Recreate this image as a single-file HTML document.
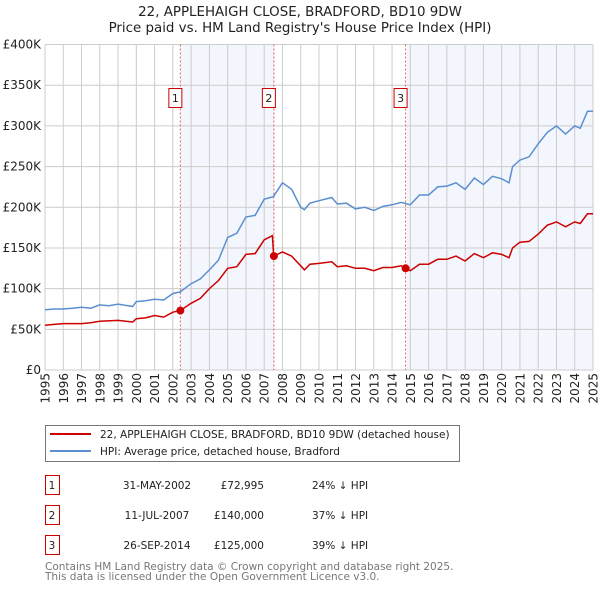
<!DOCTYPE html>
<html><head><meta charset="utf-8"><style>
body{margin:0;background:#fff;}
svg{display:block;font-family:"DejaVu Sans","Liberation Sans",sans-serif;}
</style></head><body>
<svg id="c" width="600" height="590" viewBox="0 0 600 590">
<text x="300" y="16" text-anchor="middle" font-size="13.4" fill="#222">22, APPLEHAIGH CLOSE, BRADFORD, BD10 9DW</text>
<text x="300" y="32" text-anchor="middle" font-size="13.4" fill="#222">Price paid vs. HM Land Registry's House Price Index (HPI)</text>
<g id="shade"></g><g id="grid"></g><g id="axes"></g><g id="vlines"></g><g id="series"></g>
<g>
<rect x="45.5" y="425.5" width="414" height="36" fill="#fff" stroke="#777"/>
<line x1="50" y1="434" x2="91" y2="434" stroke="#cc0000" stroke-width="2"/>
<text x="100" y="438" font-size="10.5" fill="#222">22, APPLEHAIGH CLOSE, BRADFORD, BD10 9DW (detached house)</text>
<line x1="50" y1="451" x2="91" y2="451" stroke="#5b8fd0" stroke-width="2"/>
<text x="100" y="455" font-size="10.5" fill="#222">HPI: Average price, detached house, Bradford</text>
</g>
<g id="table" font-size="10.5" fill="#222"></g>
<text x="45" y="570" font-size="10.5" fill="#777">Contains HM Land Registry data © Crown copyright and database right 2025.</text>
<text x="45" y="580" font-size="10.5" fill="#777">This data is licensed under the Open Government Licence v3.0.</text>
</svg>
<script>
const hpiYears=[1995,1995.5,1996,1996.5,1997,1997.5,1998,1998.5,1999,1999.8,2000,2000.5,2001,2001.5,2002,2002.4,2003,2003.5,2004,2004.5,2005,2005.5,2006,2006.5,2007,2007.5,2008,2008.5,2009,2009.2,2009.5,2010,2010.7,2011,2011.5,2012,2012.5,2013,2013.5,2014,2014.5,2015,2015.5,2016,2016.5,2017,2017.5,2018,2018.5,2019,2019.5,2020,2020.4,2020.6,2021,2021.5,2022,2022.5,2023,2023.5,2024,2024.3,2024.7,2025];
const hpiValues=[74,75,75,76,77,76,80,79,81,78,84,85,87,86,94,96,106,112,123,135,163,168,188,190,210,213,230,222,200,197,205,208,212,204,205,198,200,196,201,203,206,203,215,215,225,226,230,222,236,228,238,235,230,250,258,262,278,292,300,290,300,297,318,318];
const paidYears=[1995,1995.5,1996,1997,1997.5,1998,1999,1999.8,2000,2000.5,2001,2001.5,2002,2002.4,2003,2003.5,2004,2004.5,2005,2005.5,2006,2006.5,2007,2007.45,2007.52,2008,2008.5,2009,2009.2,2009.5,2010,2010.7,2011,2011.5,2012,2012.5,2013,2013.5,2014,2014.5,2014.74,2015,2015.5,2016,2016.5,2017,2017.5,2018,2018.5,2019,2019.5,2020,2020.4,2020.6,2021,2021.5,2022,2022.5,2023,2023.5,2024,2024.3,2024.7,2025];
const paidValues=[55,56,57,57,58,60,61,59,63,64,67,65,71,73,82,88,100,110,125,127,142,143,160,165,140,145,140,128,123,130,131,133,127,128,125,125,122,126,126,128,125,122,130,130,136,136,140,134,143,138,144,142,138,150,157,158,167,178,182,176,182,180,192,192];
const saleYears=[2002.41,2007.53,2014.74];
const salePrices=[72995,140000,125000];
const saleLabels=["1","2","3"];
const saleDates=["31-MAY-2002","11-JUL-2007","26-SEP-2014"];
const salePriceText=["£72,995","£140,000","£125,000"];
const saleHpiText=["24% ↓ HPI","37% ↓ HPI","39% ↓ HPI"];
const yTicks=[0,50,100,150,200,250,300,350,400];
const yTickLabels=["£0","£50K","£100K","£150K","£200K","£250K","£300K","£350K","£400K"];
const xTicks=[1995,1996,1997,1998,1999,2000,2001,2002,2003,2004,2005,2006,2007,2008,2009,2010,2011,2012,2013,2014,2015,2016,2017,2018,2019,2020,2021,2022,2023,2024,2025];

const X0=45,X1=593,Y0=370,Y1=44.5;
const x=t=>X0+(t-1995)/30*(X1-X0);
const y=v=>Y0-v/400*(Y0-Y1);
const NS="http://www.w3.org/2000/svg";
function mk(tag,parent,attrs){const e=document.createElementNS(NS,tag);for(const k in attrs)e.setAttribute(k,attrs[k]);document.getElementById(parent).appendChild(e);return e;}

let r=mk('rect','shade',{x:x(saleYears[0]),y:Y1,width:x(saleYears[1])-x(saleYears[0]),height:Y0-Y1,fill:'#f3f6fd'});


r=mk('rect','shade',{x:x(saleYears[2])+1.5,y:Y1,width:X1-x(saleYears[2])-1.5,height:Y0-Y1,fill:'#f3f6fd'});



yTicks.forEach((v,i)=>{
 let l=mk('line','grid',{x1:X0,x2:X1,y1:y(v),y2:y(v),stroke:'#ccc'});
 
 
 let t=mk('text','axes',{x:X0-4,y:y(v)+4,'text-anchor':'end','font-size':'12',fill:'#222'});
 t.textContent=yTickLabels[i];
 
 
});
xTicks.forEach(v=>{
 let l=mk('line','grid',{x1:x(v),x2:x(v),y1:Y1,y2:Y0,stroke:'#ccc'});
 
 
 let t=mk('text','axes',{x:0,y:0,'text-anchor':'end','font-size':'12',fill:'#222',transform:`translate(${x(v)+4.5},${Y0+3}) rotate(-90)`});
 t.textContent=v;
 
 
});

saleYears.forEach((s,i)=>{
 let l=mk('line','vlines',{x1:x(s),x2:x(s),y1:Y1,y2:Y0,stroke:'#e06060','stroke-dasharray':'2,2'});
 
 
 let b=mk('rect','vlines',{x:x(s)-11.5,y:88.5,width:13,height:19,fill:'#fff',stroke:'#cc0000'});
 
 
 let t=mk('text','vlines',{x:x(s)-5,y:102,'text-anchor':'middle','font-size':'11',fill:'#222'});
 t.textContent=saleLabels[i];
 
 
});

function pts(xs,vs){return xs.map((t,i)=>x(t).toFixed(1)+','+y(vs[i]).toFixed(1)).join(' ');}
let p=mk('polyline','series',{points:pts(hpiYears,hpiValues),fill:'none',stroke:'#5b8fd0','stroke-width':'1.5'});


p=mk('polyline','series',{points:pts(paidYears,paidValues),fill:'none',stroke:'#cc0000','stroke-width':'1.5'});


saleYears.forEach((s,i)=>{
 let c=mk('circle','series',{cx:x(s),cy:y(salePrices[i]/1000),r:4,fill:'#cc0000'});
 
 
});

saleLabels.forEach((lab,i)=>{
 const ry=475+i*30;
 let b=mk('rect','table',{x:45.5,y:ry+0.5,width:14,height:19,fill:'#fff',stroke:'#cc0000'});
 
 
 const cells=[[52,'middle',lab],[157,'middle',saleDates[i]],[264,'end',salePriceText[i]],[312,'start',saleHpiText[i]]];
 cells.forEach(c=>{
  let t=mk('text','table',{x:c[0],y:ry+14,'text-anchor':c[1]});
  t.textContent=c[2];
  
  
 });
});
</script>
</body></html>
